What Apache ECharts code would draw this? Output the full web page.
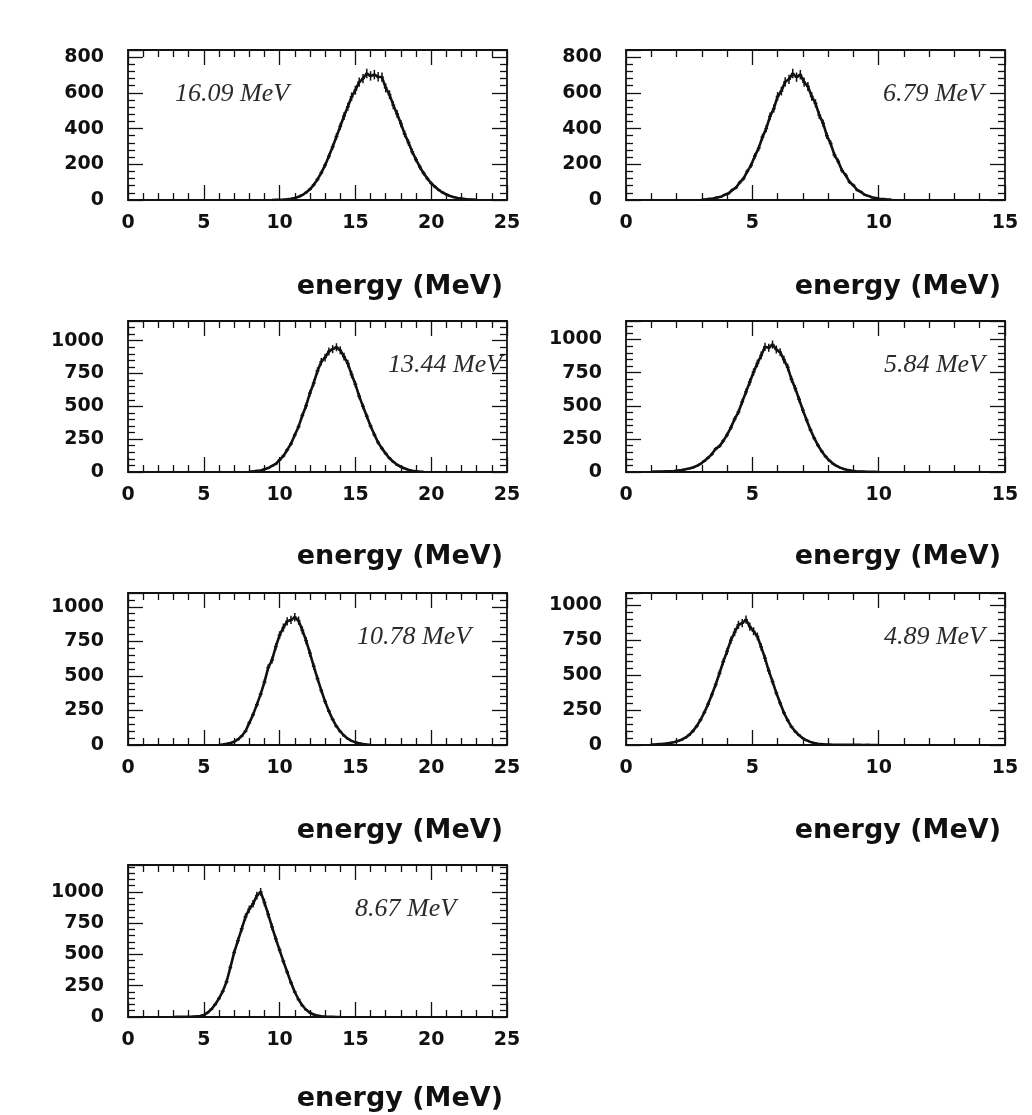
<!DOCTYPE html>
<html>
<head>
<meta charset="utf-8">
<script src="https://cdn.jsdelivr.net/npm/echarts@6/dist/echarts.min.js"></script>
<style>
  html, body { margin: 0; padding: 0; background: #ffffff; }
  #chart { width: 1032px; height: 1115px; }
</style>
</head>
<body>
<div id="chart"></div>
<script>
// Reconstructed energy spectra, one panel per beam energy.
const peakLabels = ['16.09 MeV', '6.79 MeV', '13.44 MeV', '5.84 MeV', '10.78 MeV', '4.89 MeV', '8.67 MeV'];
const xMax = [25, 15, 25, 15, 25, 15, 25];
const xStep = [5, 5, 5, 5, 5, 5, 5];
const yMax = [840, 840, 1150, 1140, 1100, 1085, 1215];
const yStep = [200, 200, 250, 250, 250, 250, 250];
const binStart = [9.5, 3.0, 8.0, 1.0, 6.0, 1.0, 3.0];
const binWidth = [0.25, 0.15, 0.25, 0.15, 0.25, 0.15, 0.25];

// counts per bin, starting at binStart
const counts1609 = [0, 1, 1, 2, 4, 7, 11, 18, 28, 42, 60, 85, 115, 152, 195, 245, 298, 355, 412, 470,
  522, 578, 615, 660, 680, 708, 695, 702, 690, 688, 628, 590, 531, 482, 428, 370, 322, 270, 226, 185,
  150, 120, 94, 74, 56, 42, 31, 22, 16, 11, 8, 5, 3, 2, 1];
const counts679 = [2, 3, 7, 8, 14, 18, 29, 36, 55, 69, 98, 120, 160, 194, 247, 290, 352, 400, 468, 512,
  580, 610, 662, 676, 708, 688, 702, 660, 636, 580, 541, 475, 430, 360, 316, 252, 216, 165, 138, 100,
  82, 56, 45, 29, 23, 14, 11, 6, 5, 2, 2];
const counts1344 = [3, 4, 9, 12, 21, 30, 46, 62, 92, 122, 168, 215, 282, 345, 430, 505, 600, 678, 770, 840,
  872, 918, 936, 950, 928, 878, 826, 742, 668, 578, 500, 425, 350, 285, 225, 180, 140, 105, 78, 55,
  40, 27, 17, 10, 6, 3, 2];
const counts584 = [2, 3, 3, 4, 5, 6, 8, 11, 15, 20, 26, 34, 46, 62, 83, 108, 135, 175, 195, 235,
  280, 335, 400, 452, 530, 605, 680, 755, 820, 880, 945, 938, 962, 925, 905, 848, 790, 700, 631, 549,
  467, 391, 319, 256, 201, 155, 117, 86, 62, 44, 31, 21, 14, 9, 6, 4, 3, 2, 1, 1, 0];
const counts1078 = [2, 4, 8, 14, 24, 40, 65, 100, 160, 220, 292, 368, 455, 560, 615, 712, 795, 850, 895, 905,
  925, 900, 830, 755, 665, 570, 480, 395, 315, 245, 185, 135, 98, 68, 46, 30, 19, 12, 7, 4, 2];
const counts489 = [3, 4, 6, 8, 11, 15, 20, 28, 38, 52, 72, 100, 135, 180, 232, 292, 360, 432, 512, 595,
  668, 748, 805, 858, 870, 895, 845, 812, 775, 700, 620, 530, 452, 372, 300, 230, 176, 130, 96, 70,
  48, 33, 22, 14, 9, 6, 4, 3, 2, 2, 1, 1, 1, 1, 1, 1, 0, 1, 0, 0, 0];
const counts867 = [0, 1, 1, 2, 2, 3, 5, 8, 15, 35, 62, 100, 148, 205, 282, 395, 515, 610, 705, 800,
  862, 905, 970, 1000, 915, 820, 720, 625, 535, 445, 360, 275, 200, 140, 92, 58, 35, 20, 11, 6,
  3, 2, 1, 0, 0];
const allCounts = [counts1609, counts679, counts1344, counts584, counts1078, counts489, counts867];

const INK = '#111111';
const COL_LEFT = [128, 626];
const BOX_W = 379;
const ROW_BOX = [[50, 150], [321, 151], [593, 152], [865, 152]];
const TITLE_Y = [287, 557, 831, 1099];
const LABEL_POS = [
  { x: 175, align: 'left' }, { x: 984, align: 'right' },
  { x: 388, align: 'left' }, { x: 985, align: 'right' },
  { x: 357, align: 'left' }, { x: 985, align: 'right' },
  { x: 355, align: 'left' }
];

const tickText = { fontFamily: 'DejaVu Sans', fontWeight: 'bold', fontSize: 19, color: INK };
const lineSty = { color: INK, width: 1.8 };

const grids = [], xAxes = [], yAxes = [], series = [], graphics = [];

allCounts.forEach((counts, i) => {
  const col = i % 2, row = Math.floor(i / 2);
  const left = COL_LEFT[col], top = ROW_BOX[row][0], h = ROW_BOX[row][1];
  grids.push({ left: left, top: top, width: BOX_W, height: h });

  const xBase = {
    type: 'value', gridIndex: i, min: 0, max: xMax[i], interval: xStep[i],
    axisLine: { show: true, onZero: false, lineStyle: lineSty },
    axisTick: { show: true, inside: true, length: 15, lineStyle: { color: INK, width: 1.3 } },
    minorTick: { show: true, splitNumber: 5, length: 7, lineStyle: { color: INK, width: 1.3 } },
    splitLine: { show: false }
  };
  xAxes.push(Object.assign({}, xBase, {
    position: 'bottom',
    axisLabel: Object.assign({ margin: 14 }, tickText)
  }));
  xAxes.push(Object.assign({}, xBase, { position: 'top', axisLabel: { show: false } }));

  const step = yStep[i];
  const yBase = {
    type: 'value', gridIndex: i, min: 0, max: yMax[i], interval: step,
    axisLine: { show: true, onZero: false, lineStyle: lineSty },
    axisTick: { show: true, inside: true, length: 15, lineStyle: { color: INK, width: 1.3 } },
    minorTick: { show: true, splitNumber: 5, length: 7, lineStyle: { color: INK, width: 1.3 } },
    splitLine: { show: false }
  };
  yAxes.push(Object.assign({}, yBase, {
    position: 'left',
    axisLabel: Object.assign({
      margin: 24,
      formatter: v => (v % step === 0 ? String(v) : '')
    }, tickText)
  }));
  yAxes.push(Object.assign({}, yBase, { position: 'right', axisLabel: { show: false } }));

  const pts = counts.map((c, k) => [binStart[i] + k * binWidth[i], c]);
  const w = binWidth[i];

  series.push({
    type: 'line', xAxisIndex: 2 * i, yAxisIndex: 2 * i, data: pts,
    showSymbol: false, symbol: 'none', silent: true, animation: false,
    lineStyle: { color: INK, width: 2.6 }
  });
  // statistical error bars, sqrt(N), with half-bin horizontal arms
  series.push({
    type: 'custom', xAxisIndex: 2 * i, yAxisIndex: 2 * i, data: pts, silent: true, animation: false,
    renderItem: (params, api) => {
      const x = api.value(0), y = api.value(1);
      if (y <= 0) return null;
      const e = Math.sqrt(y);
      const lo = api.coord([x, y - e]), hi = api.coord([x, y + e]);
      const l = api.coord([x - w / 2, y]), r = api.coord([x + w / 2, y]);
      return {
        type: 'group',
        children: [
          { type: 'line', shape: { x1: lo[0], y1: lo[1], x2: hi[0], y2: hi[1] }, style: { stroke: INK, lineWidth: 1.5 } },
          { type: 'line', shape: { x1: l[0], y1: l[1], x2: r[0], y2: r[1] }, style: { stroke: INK, lineWidth: 1.5 } }
        ]
      };
    }
  });

  graphics.push({
    type: 'text', x: LABEL_POS[i].x, y: top + 44, z: 10,
    style: {
      text: peakLabels[i], align: LABEL_POS[i].align, verticalAlign: 'middle',
      font: 'italic 26px "Liberation Serif", "Times New Roman", serif', fill: '#2b2b2b'
    }
  });
  graphics.push({
    type: 'text', x: left + BOX_W - 4, y: TITLE_Y[row], z: 10,
    style: {
      text: 'energy (MeV)', align: 'right', verticalAlign: 'middle',
      font: 'bold 27px "DejaVu Sans", sans-serif', fill: INK
    }
  });
});

const chart = echarts.init(document.getElementById('chart'), null, { renderer: 'canvas' });
chart.setOption({
  backgroundColor: '#ffffff',
  animation: false,
  grid: grids,
  xAxis: xAxes,
  yAxis: yAxes,
  series: series,
  graphic: graphics
});
</script>
</body>
</html>
